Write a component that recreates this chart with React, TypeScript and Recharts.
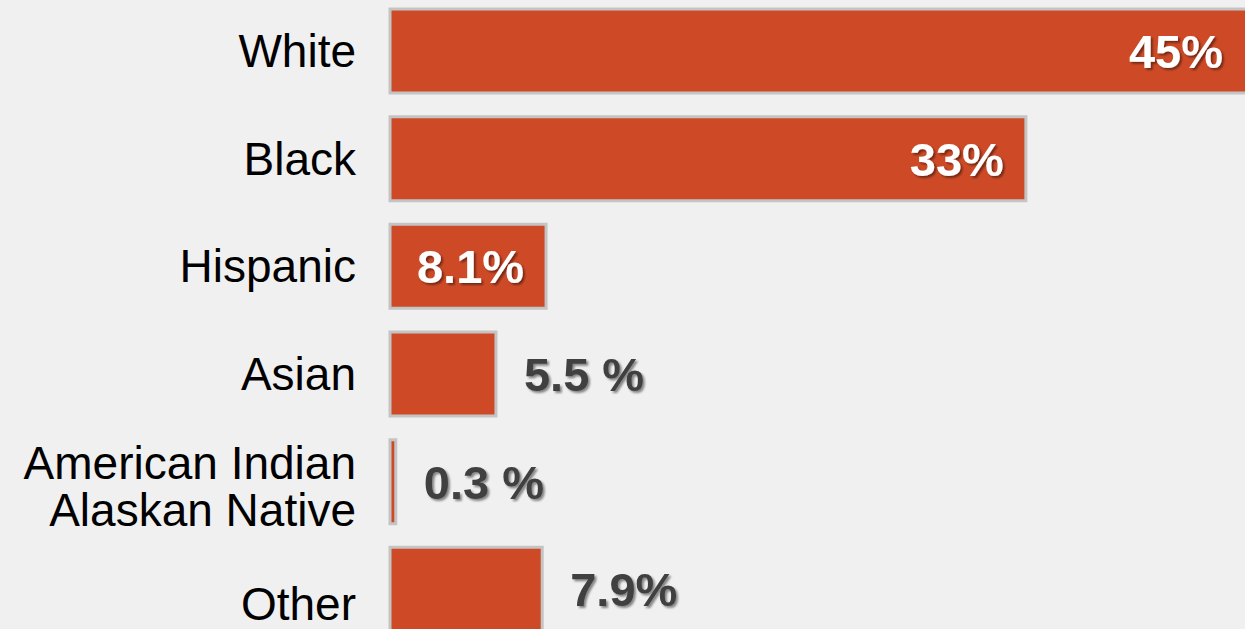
import React from 'react';
import { BarChart, Bar, XAxis, YAxis, LabelList } from 'recharts';

const groups = ['White', 'Black', 'Hispanic', 'Asian', 'American Indian\nAlaskan Native', 'Other'];
const shares = [45, 33, 8.1, 5.5, 0.3, 7.9];
const shareLabels = ['45%', '33%', '8.1%', '5.5 %', '0.3 %', '7.9%'];

const chartData = groups.map((name, i) => ({ name, value: shares[i], label: shareLabels[i] }));

const FONT = '"Liberation Sans", Arial, sans-serif';
const BAR_FILL = '#CE4A27';
const VIEW_W = 1245;

// the source slide nudges the last category label down a bit
const tickNudge = (name: string) => (name === 'Other' ? 15 : 0);

function GroupTick(props: any) {
  const { y, payload } = props;
  const name: string = payload.value;
  const lines = name.split('\n');
  const base = y + 16 + tickNudge(name);
  return (
    <text x={356} y={0} textAnchor="end" fontFamily={FONT} fontSize={46} fill="#000">
      {lines.length === 1 ? (
        <tspan x={356} y={base}>{name}</tspan>
      ) : (
        lines.map((line, i) => (
          <tspan key={i} x={356} y={y - 3 + i * 47}>{line}</tspan>
        ))
      )}
    </text>
  );
}

function ShareLabel(props: any) {
  const { x, y, width, height, index } = props;
  const v = shares[index];
  const inside = v >= 8;
  const cy = y + height / 2 + 17;
  // keep the inside label in view when the bar runs past the edge
  const end = Math.min(x + width, VIEW_W);
  return (
    <text
      x={inside ? end - 22 : x + width + 28}
      y={cy}
      textAnchor={inside ? 'end' : 'start'}
      fontFamily={FONT}
      fontWeight="bold"
      fontSize={47}
      fill={inside ? '#ffffff' : '#404040'}
      filter="url(#txtShadow)"
    >
      {shareLabels[index]}
    </text>
  );
}

export default function App() {
  return (
    <div
      style={{
        position: 'absolute',
        left: 0,
        top: 0,
        width: VIEW_W,
        height: 629,
        overflow: 'hidden',
        background: '#f0f0f0',
      }}
    >
      <svg width={0} height={0} style={{ position: 'absolute' }}>
        <defs>
          <filter id="txtShadow" x="-10%" y="-20%" width="130%" height="150%">
            <feDropShadow dx="2" dy="2" stdDeviation="1.3" floodColor="#000" floodOpacity="0.45" />
          </filter>
        </defs>
      </svg>
      <div style={{ position: 'absolute', left: 0, top: -3 }}>
        <BarChart
          width={1260}
          height={646}
          data={chartData}
          layout="vertical"
          margin={{ top: 0, right: 0, bottom: 0, left: 0 }}
        >
          <XAxis type="number" domain={[0, 45.15]} hide />
          <YAxis
            type="category"
            dataKey="name"
            width={390}
            axisLine={false}
            tickLine={false}
            tick={<GroupTick />}
            interval={0}
          />
          <Bar
            dataKey="value"
            fill={BAR_FILL}
            stroke="#c4c4c4"
            strokeWidth={3}
            barSize={84}
            isAnimationActive={false}
          >
            <LabelList dataKey="value" content={<ShareLabel />} />
          </Bar>
        </BarChart>
      </div>
    </div>
  );
}
